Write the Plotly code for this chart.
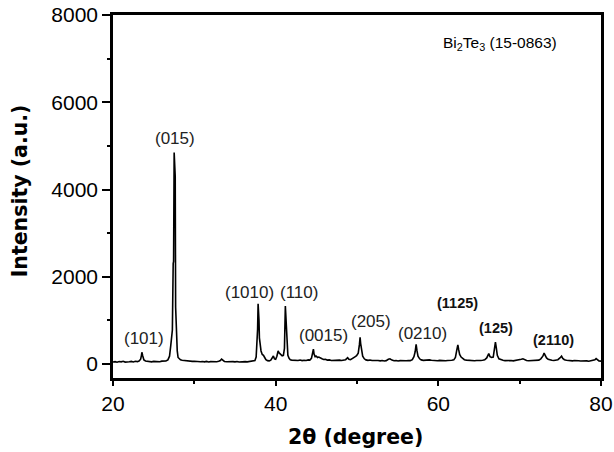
import plotly.graph_objects as go

two_theta = [
    20.0, 20.25, 20.5, 20.75, 21.0, 21.25, 21.5, 21.75, 22.0, 22.25, 22.5, 22.75, 23.0, 23.2, 23.4, 23.5, 23.55, 23.65, 23.8,
    24.0, 24.25, 24.5, 24.75, 25.0, 25.25, 25.5, 25.75, 26.0, 26.25, 26.5, 26.75, 26.95, 27.1, 27.2, 27.3, 27.4, 27.45,
    27.52, 27.58, 27.65, 27.7, 27.75, 27.82, 27.9, 28.0, 28.15, 28.3, 28.5, 28.75, 29.0, 29.25, 29.5, 29.75, 30.0, 30.25,
    30.5, 30.75, 31.0, 31.25, 31.5, 31.75, 32.0, 32.25, 32.5, 32.75, 33.0, 33.2, 33.35, 33.5, 33.7, 34.0, 34.25, 34.5,
    34.75, 35.0, 35.25, 35.5, 35.75, 36.0, 36.25, 36.5, 36.75, 37.0, 37.25, 37.45, 37.6, 37.7, 37.78, 37.84, 37.9, 37.95,
    38.0, 38.1, 38.2, 38.35, 38.5, 38.65, 38.8, 39.0, 39.2, 39.4, 39.55, 39.72, 39.85, 40.0, 40.15, 40.3, 40.4, 40.5,
    40.65, 40.8, 40.95, 41.08, 41.19, 41.25, 41.32, 41.4, 41.5, 41.65, 41.8, 42.0, 42.25, 42.5, 42.75, 43.0, 43.25, 43.5,
    43.75, 44.0, 44.2, 44.4, 44.55, 44.64, 44.72, 44.85, 45.0, 45.15, 45.3, 45.5, 45.7, 45.9, 46.1, 46.35, 46.6, 46.85,
    47.1, 47.35, 47.6, 47.85, 48.1, 48.35, 48.6, 48.85, 49.0, 49.2, 49.45, 49.7, 49.95, 50.15, 50.3, 50.38, 50.45, 50.55,
    50.7, 50.9, 51.1, 51.35, 51.6, 51.85, 52.1, 52.35, 52.6, 52.85, 53.1, 53.35, 53.6, 53.85, 54.05, 54.3, 54.55, 54.8,
    55.05, 55.3, 55.55, 55.8, 56.05, 56.3, 56.55, 56.8, 57.0, 57.15, 57.27, 57.38, 57.5, 57.7, 57.9, 58.15, 58.4, 58.65,
    58.9, 59.15, 59.4, 59.65, 59.9, 60.15, 60.4, 60.65, 60.9, 61.15, 61.4, 61.65, 61.9, 62.1, 62.25, 62.4, 62.5, 62.62,
    62.8, 63.0, 63.2, 63.45, 63.7, 63.95, 64.2, 64.45, 64.7, 64.95, 65.2, 65.45, 65.7, 65.95, 66.1, 66.2, 66.35, 66.55,
    66.75, 66.9, 67.02, 67.12, 67.25, 67.45, 67.7, 67.95, 68.2, 68.45, 68.7, 68.95, 69.2, 69.45, 69.7, 69.95, 70.2, 70.4,
    70.6, 70.85, 71.1, 71.35, 71.6, 71.85, 72.1, 72.35, 72.6, 72.85, 73.0, 73.12, 73.3, 73.5, 73.7, 73.95, 74.2, 74.45,
    74.7, 74.95, 75.15, 75.3, 75.5, 75.75, 76.0, 76.25, 76.5, 76.75, 77.0, 77.25, 77.5, 77.75, 78.0, 78.25, 78.5, 78.75,
    79.0, 79.25, 79.4, 79.55, 79.75, 80.0,
]

intensity = [
    48, 55, 42, 58, 50, 62, 45, 57, 52, 60, 47, 63, 55, 68, 110, 200, 270, 190, 95,
    70, 58, 62, 50, 60, 54, 64, 52, 66, 60, 70, 95, 180, 420, 700, 780, 2300, 2350,
    4850, 4600, 4300, 1300, 920, 800, 300, 150, 110, 95, 85, 78, 70, 66, 72, 60, 64, 55,
    62, 52, 58, 50, 60, 48, 56, 50, 58, 54, 62, 80, 115, 85, 60, 52, 58, 48,
    55, 50, 57, 46, 54, 49, 56, 50, 58, 53, 62, 80, 160, 460, 800, 1380, 1200, 1000,
    600, 420, 300, 220, 200, 150, 100, 78, 72, 90, 130, 185, 120, 110, 180, 300, 260, 240,
    210, 190, 200, 360, 1330, 1050, 700, 350, 200, 130, 100, 90, 85, 95, 80, 92, 78, 88,
    82, 95, 90, 130, 230, 340, 230, 170, 180, 150, 160, 130, 120, 105, 110, 90, 95, 82,
    88, 78, 85, 90, 80, 88, 100, 145, 110, 100, 140, 160, 190, 250, 450, 610, 470, 300,
    180, 120, 95, 85, 92, 80, 86, 75, 82, 72, 80, 70, 78, 110, 120, 90, 75, 82,
    70, 78, 72, 80, 74, 82, 78, 100, 170, 280, 450, 300, 180, 120, 95, 85, 90, 80,
    95, 85, 80, 88, 76, 84, 78, 86, 74, 82, 76, 86, 95, 150, 300, 440, 330, 220,
    160, 120, 100, 90, 84, 78, 86, 76, 82, 74, 80, 85, 95, 140, 220, 240, 170, 150,
    160, 300, 500, 380, 200, 120, 95, 85, 78, 84, 74, 80, 72, 78, 85, 95, 110, 120,
    95, 80, 74, 80, 72, 78, 82, 90, 120, 180, 250, 210, 140, 110, 95, 85, 80, 90,
    100, 140, 180, 130, 100, 85, 78, 82, 72, 80, 70, 76, 68, 74, 66, 72, 64, 70,
    75, 95, 125, 90, 70, 66,
]

peak_labels = ["(101)", "(015)", "(1010)", "(110)", "(0015)", "(205)", "(0210)"]
peak_label_x = [23.8, 27.6, 36.8, 42.9, 45.9, 51.7, 58.0]
peak_label_y = [575, 5180, 1650, 1650, 665, 970, 710]

bold_labels = ["(1125)", "(125)", "(2110)"]
bold_label_x = [62.4, 67.1, 74.2]
bold_label_y = [1400, 825, 550]

phase_label = "Bi<sub>2</sub>Te<sub>3</sub> (15-0863)"
phase_label_x = 67.6
phase_label_y = 7340

fig = go.Figure()
fig.add_trace(go.Scatter(
    x=two_theta, y=intensity, mode="lines",
    line=dict(color="black", width=1.6), showlegend=False, hoverinfo="skip",
))

annotations = []
for t, x, y in zip(peak_labels, peak_label_x, peak_label_y):
    annotations.append(dict(x=x, y=y, xref="x", yref="y", text=t, showarrow=False,
                            font=dict(family="Liberation Sans, Arial", size=17, color="#222222")))
for t, x, y in zip(bold_labels, bold_label_x, bold_label_y):
    annotations.append(dict(x=x, y=y, xref="x", yref="y", text="<b>" + t + "</b>", showarrow=False,
                            font=dict(family="Liberation Sans, Arial", size=14.5, color="#111111")))
annotations.append(dict(x=phase_label_x, y=phase_label_y, xref="x", yref="y", text=phase_label,
                        showarrow=False, font=dict(family="Liberation Sans, Arial", size=15.5, color="black")))
annotations.append(dict(x=-0.19, y=0.515, xref="paper", yref="paper", text="<b>Intensity (a.u.)</b>",
                        xanchor="center", yanchor="middle", textangle=-90, showarrow=False,
                        font=dict(family="DejaVu Sans", size=20.5, color="black")))
annotations.append(dict(x=0.496, y=-0.163, xref="paper", yref="paper", text="<b>2θ (degree)</b>",
                        xanchor="center", yanchor="middle", showarrow=False,
                        font=dict(family="DejaVu Sans", size=20.5, color="black")))

axis_common = dict(
    showline=True, linecolor="black", linewidth=2.5, mirror=True,
    showgrid=False, zeroline=False, ticks="outside", tickcolor="black", tickwidth=2,
    tickfont=dict(family="Liberation Sans, Arial", size=21, color="black"),
)

fig.update_layout(
    width=614, height=452,
    margin=dict(l=113, r=13, t=15, b=74, autoexpand=False),
    paper_bgcolor="white", plot_bgcolor="white",
    xaxis=dict(range=[20, 80], tick0=20, dtick=20, ticklen=5,
               minor=dict(dtick=10, ticks="outside", ticklen=3, tickwidth=2, tickcolor="black"),
               **axis_common),
    yaxis=dict(range=[-320, 8000], tick0=0, dtick=2000, ticklen=8,
               minor=dict(dtick=1000, ticks="outside", ticklen=3, tickwidth=2, tickcolor="black"),
               **axis_common),
    annotations=annotations,
)

fig.write_html("out.html", config={"displayModeBar": False},
               post_script="document.body.style.margin='0';document.body.style.overflow='hidden';")
